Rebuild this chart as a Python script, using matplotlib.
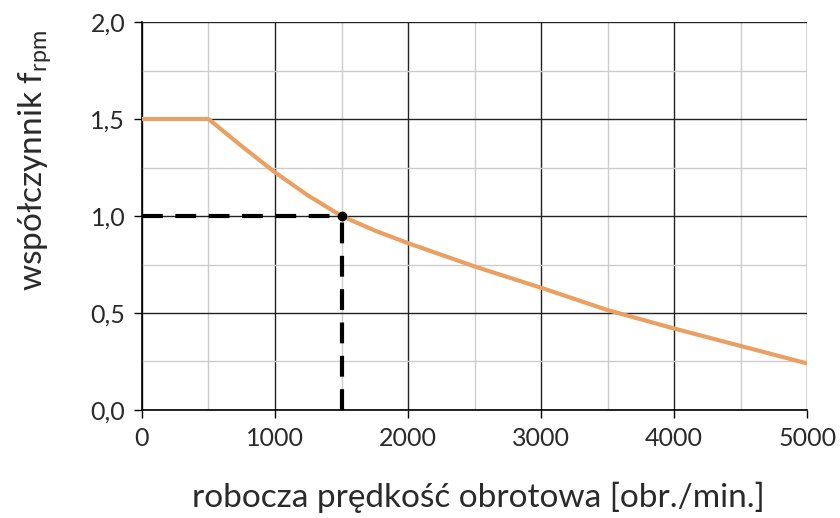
import numpy as np
import matplotlib
matplotlib.use("Agg")
import matplotlib.pyplot as plt
from matplotlib.ticker import MultipleLocator, FuncFormatter

# curve
speed = [0, 500, 750, 1000, 1250, 1500, 1750, 2000, 2250, 2500, 3000, 3500, 4000, 4500, 5000]
f_rpm = [1.5, 1.5, 1.36, 1.225, 1.105, 1.0, 0.925, 0.86, 0.80, 0.74, 0.63, 0.515, 0.42, 0.33, 0.24]

# working point
ref_speed = 1500
ref_f = 1.0

plt.rcParams['font.family'] = ['Lato', 'DejaVu Sans']
txt_color = '#2a2a2a'

fig = plt.figure(figsize=(8.4, 5.18), dpi=100)
ax = fig.add_axes([0.169, 0.2085, 0.792, 0.749])

ax.set_xlim(0, 5000)
ax.set_ylim(0, 2.0)
ax.xaxis.set_major_locator(MultipleLocator(1000))
ax.xaxis.set_minor_locator(MultipleLocator(500))
ax.yaxis.set_major_locator(MultipleLocator(0.5))
ax.yaxis.set_minor_locator(MultipleLocator(0.25))
ax.grid(which='major', color='#222222', linewidth=1.0)
ax.grid(which='minor', color='#cccccc', linewidth=1.0)
ax.set_axisbelow(True)

for s in ax.spines.values():
    s.set_visible(False)
ax.spines['left'].set_visible(True)
ax.spines['bottom'].set_visible(True)
ax.spines['left'].set_linewidth(1.2)
ax.spines['bottom'].set_linewidth(1.2)

ax.tick_params(which='major', direction='out', length=6, width=1.0,
               labelsize=18, labelcolor=txt_color, pad=6)
ax.tick_params(which='minor', length=0)
ax.yaxis.set_major_formatter(FuncFormatter(lambda v, p: f"{v:.1f}".replace('.', ',')))

ax.plot(speed, f_rpm, color='#e9a062', linewidth=3, solid_capstyle='butt', zorder=3)

ax.plot([0, ref_speed], [ref_f, ref_f], color='black', linewidth=3,
        dashes=(5, 3), zorder=4, clip_on=False)
ax.plot([ref_speed, ref_speed], [0, ref_f], color='black', linewidth=3,
        dashes=(5, 3), zorder=4, clip_on=False)
ax.plot([ref_speed], [ref_f], 'o', color='black', markersize=6, zorder=5)

fig.text(0.57, 0.04, 'robocza prędkość obrotowa [obr./min.]', ha='center', va='center',
         fontsize=24, color=txt_color)
fig.text(0.042, 0.69, r'współczynnik f$_{\mathregular{rpm}}$', rotation=90,
         ha='center', va='center', fontsize=24, color=txt_color)

fig.savefig('out.png', dpi=100)
